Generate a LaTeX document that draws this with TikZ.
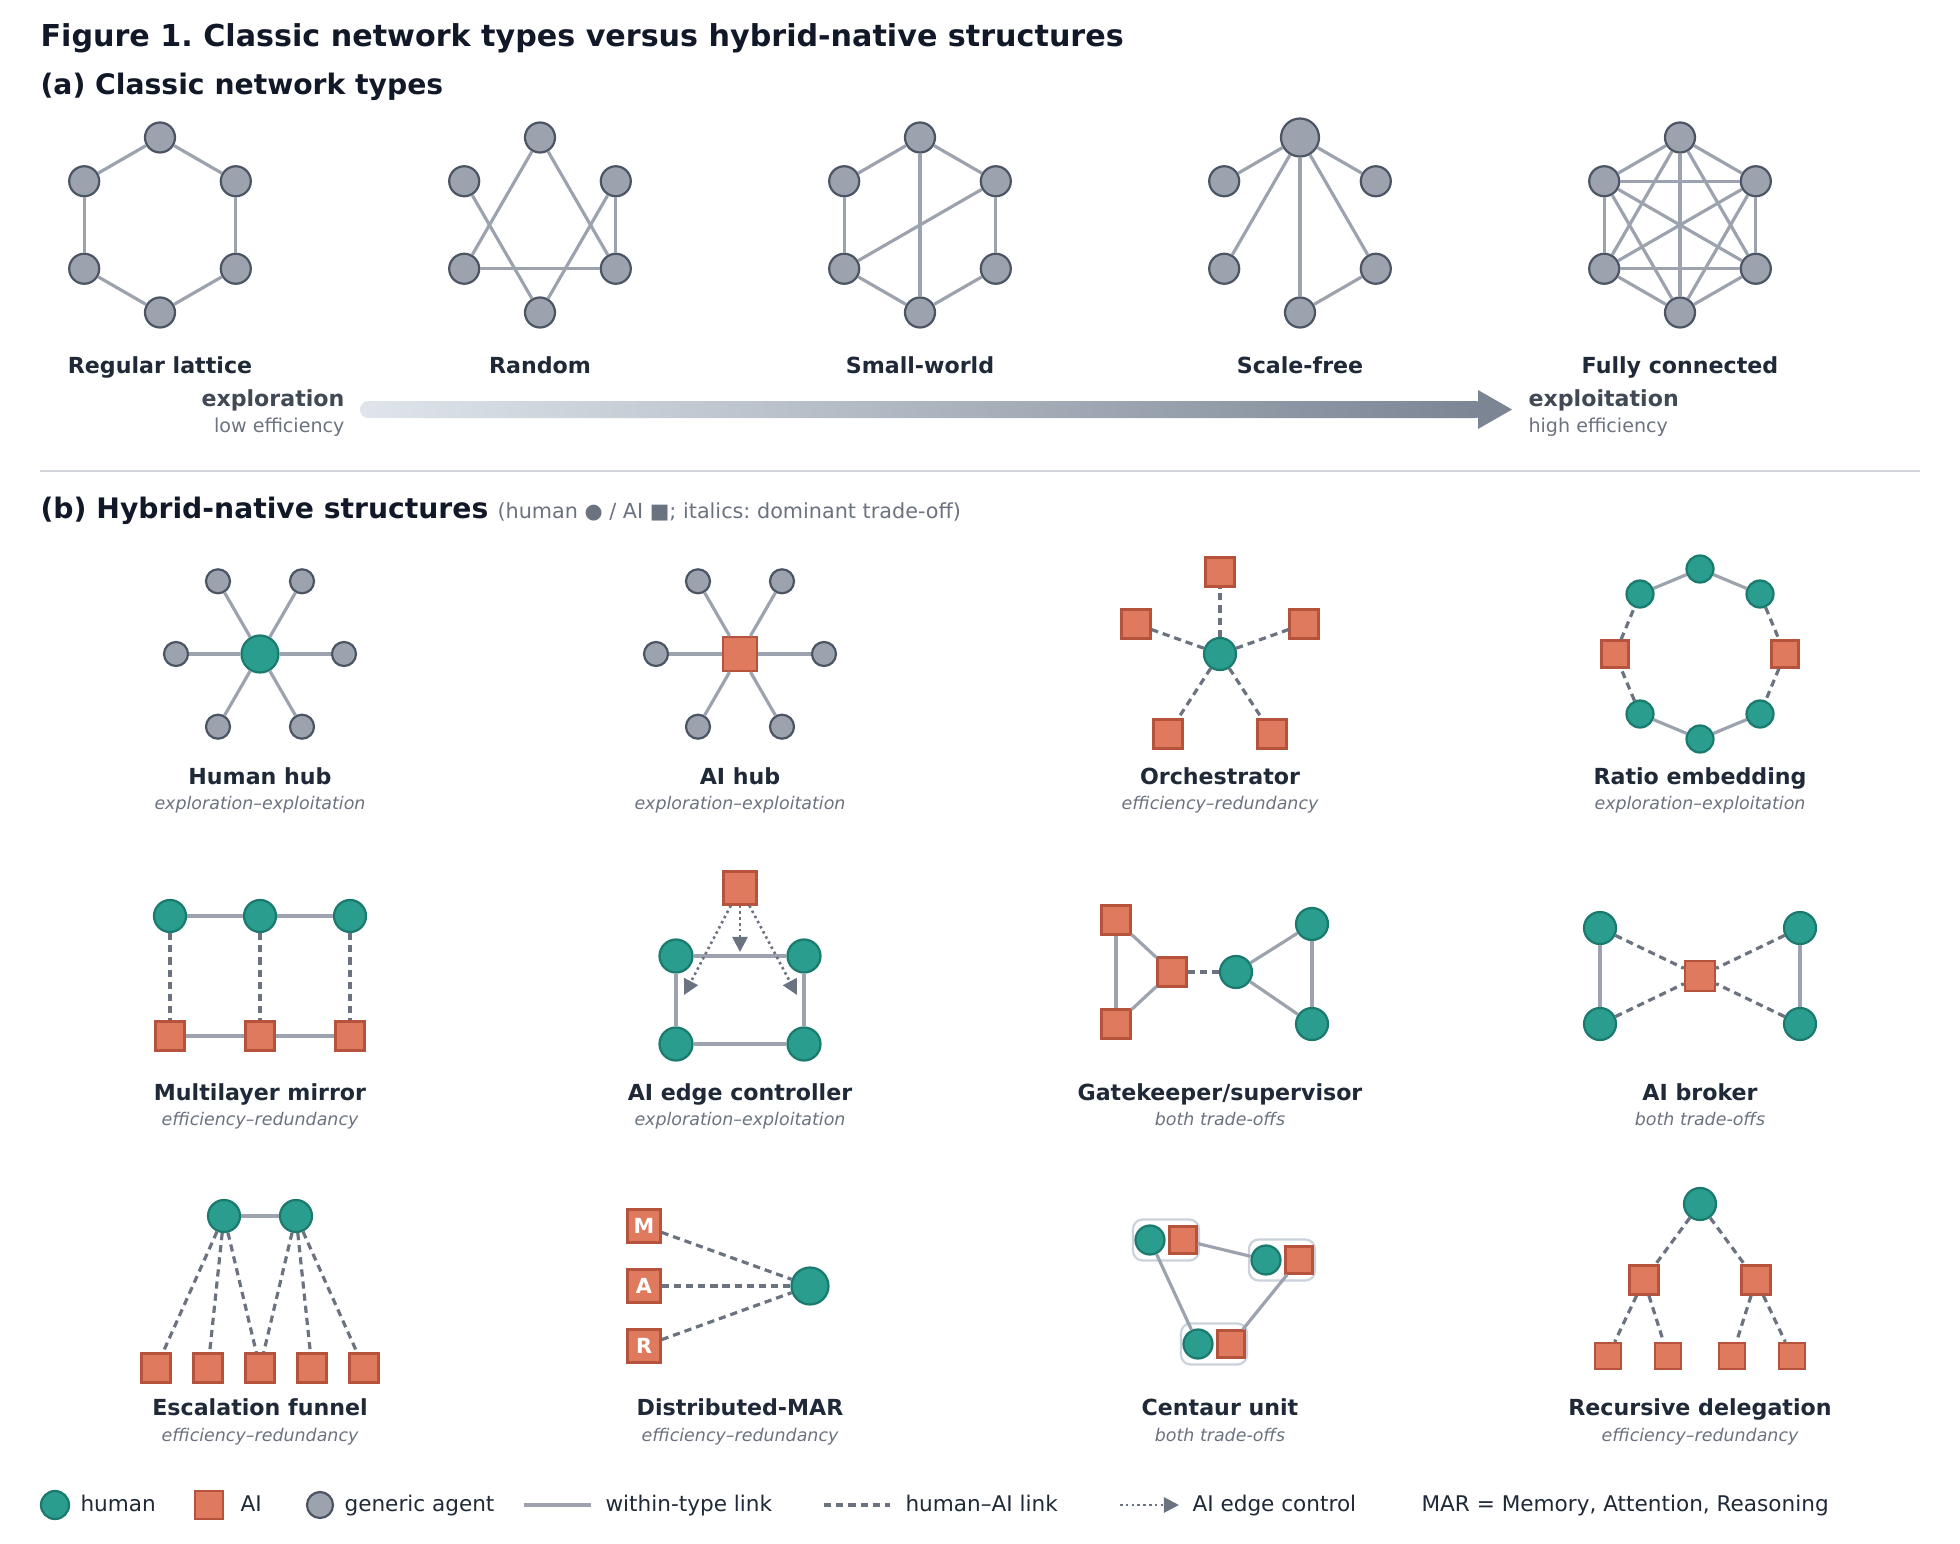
\documentclass[tikz,border=0pt]{standalone}
\usepackage{fontspec}
\setmainfont{DejaVu Sans}
\usetikzlibrary{arrows.meta}
\frenchspacing
\definecolor{genF}{HTML}{9CA3AF}
\definecolor{genS}{HTML}{4B5563}
\definecolor{humF}{HTML}{2A9D8F}
\definecolor{humS}{HTML}{1B7A6E}
\definecolor{aiF}{HTML}{E07A5F}
\definecolor{aiS}{HTML}{B5533C}
\definecolor{edgeC}{HTML}{9CA3AF}
\definecolor{dashC}{HTML}{6B7280}
\definecolor{txtT}{HTML}{111827}
\definecolor{txtD}{HTML}{1F2937}
\definecolor{txtG}{HTML}{6B7280}
\definecolor{sepC}{HTML}{D1D5DB}
\definecolor{boxC}{HTML}{CBD2DB}
\definecolor{barL}{HTML}{DFE5EB}
\definecolor{barR}{HTML}{7B8594}
\def\pxu{0.127mm}
\newcommand\ftitle{\fontsize{10.9}{13}\selectfont\bfseries}
\newcommand\fsec{\fontsize{10.2}{12}\selectfont\bfseries}
\newcommand\flab{\fontsize{8}{9.6}\selectfont\bfseries}
\newcommand\fsub{\fontsize{6.3}{7.5}\selectfont\itshape}
\newcommand\fsmall{\fontsize{6.9}{8}\selectfont}
\newcommand\fleg{\fontsize{7.8}{9}\selectfont}
\newcommand\fnote{\fontsize{7.5}{9}\selectfont}
\newcommand\hexset[3]{%
 \node[gen] (#1ur) at (#2+75.8,#3-43.75) {};
 \node[gen] (#1lr) at (#2+75.8,#3+43.75) {};
 \node[gen] (#1b) at (#2,#3+87.5) {};
 \node[gen] (#1ll) at (#2-75.8,#3+43.75) {};
 \node[gen] (#1ul) at (#2-75.8,#3-43.75) {};
}
\tikzset{
 gen/.style={circle, draw=genS, fill=genF, line width=0.8pt, inner sep=0pt, minimum size=30*\pxu},
 hum/.style={circle, draw=humS, fill=humF, line width=0.8pt, inner sep=0pt, minimum size=32*\pxu},
 aisq/.style={rectangle, draw=aiS, fill=aiF, line width=0.8pt, inner sep=0pt, minimum size=29*\pxu},
 wl/.style={draw=edgeC, line width=1.15pt},
 hl/.style={draw=dashC, line width=1.15pt, dash pattern=on 2.6pt off 1.8pt},
 ctl/.style={draw=dashC, line width=0.95pt, dash pattern=on 0.9pt off 1.2pt, -{Triangle[length=5.5pt,width=5.5pt]}},
 lab/.style={font=\flab, text=txtD, anchor=base, inner sep=0pt},
 sub/.style={font=\fsub, text=txtG, anchor=base, inner sep=0pt},
 legt/.style={font=\fleg, text=txtD, anchor=base west, inner sep=0pt},
 cbox/.style={draw=boxC, fill=white, line width=0.8pt, rounded corners=3.5pt, minimum width=66*\pxu, minimum height=41*\pxu, inner sep=0pt},
}
\begin{document}
\begin{tikzpicture}[x=0.127mm, y=-0.127mm]
\fill[white] (0,0) rectangle (1960,1544);
\useasboundingbox (0,0) rectangle (1960,1544);

% titles
\node[font=\ftitle, text=txtT, anchor=base west, inner sep=0pt] (title) at (40,46.5) {Figure 1. Classic network types versus hybrid-native structures};
\node[font=\fsec, text=txtT, anchor=base west, inner sep=0pt] (seca) at (40,94) {(a) Classic network types};

% (a) regular lattice
\node[gen] (rlt) at (160,137.5) {};
\hexset{rl}{160}{225}
\foreach \a/\b in {t/ur,ur/lr,lr/b,b/ll,ll/ul,ul/t} \draw[wl] (rl\a) -- (rl\b);
% random
\node[gen] (rdt) at (540,137.5) {};
\hexset{rd}{540}{225}
\foreach \a/\b in {t/ll,t/lr,ul/b,ur/b,ur/lr,ll/lr} \draw[wl] (rd\a) -- (rd\b);
% small-world
\node[gen] (swt) at (920,137.5) {};
\hexset{sw}{920}{225}
\foreach \a/\b in {t/ur,ur/lr,lr/b,b/ll,ll/ul,ul/t,t/b,ur/ll} \draw[wl] (sw\a) -- (sw\b);
% scale-free
\node[gen, minimum size=38*\pxu] (sft) at (1300,137.5) {};
\hexset{sf}{1300}{225}
\foreach \a/\b in {t/ul,t/ur,t/ll,t/b,t/lr,b/lr} \draw[wl] (sf\a) -- (sf\b);
% fully connected
\node[gen] (fct) at (1680,137.5) {};
\hexset{fc}{1680}{225}
\foreach \a/\b in {t/ur,t/lr,t/b,t/ll,t/ul,ur/lr,ur/b,ur/ll,ur/ul,lr/b,lr/ll,lr/ul,b/ll,b/ul,ll/ul} \draw[wl] (fc\a) -- (fc\b);

\node[lab] (l1) at (160,373) {Regular lattice};
\node[lab] (l2) at (540,373) {Random};
\node[lab] (l3) at (920,373) {Small-world};
\node[lab] (l4) at (1300,373) {Scale-free};
\node[lab] (l5) at (1680,373) {Fully connected};

% exploration-exploitation bar
\node[font=\flab, text=txtD!85!white, anchor=base east, inner sep=0pt] (explo) at (345,406) {exploration};
\node[font=\fsmall, text=txtG, anchor=base east, inner sep=0pt] (lowe) at (345,432) {low efficiency};
\node[font=\flab, text=txtD!85!white, anchor=base west, inner sep=0pt] (exploit) at (1528,406) {exploitation};
\node[font=\fsmall, text=txtG, anchor=base west, inner sep=0pt] (highe) at (1528,432) {high efficiency};
\shade[left color=barL, right color=barR, rounded corners=3pt] (360,401) rectangle (1484,418);
\fill[barR] (1478,390) -- (1512,409.5) -- (1478,429) -- cycle;

% separator
\draw[sepC, line width=0.8pt] (40,471) -- (1920,471);

% (b) heading
\node[font=\fsec, text=txtT, anchor=base west, inner sep=0pt] (secb) at (40,518) {(b) Hybrid-native structures};
\node[font=\fnote, text=txtG, anchor=base west, inner sep=0pt] (note) at (497,518) {(human ● / AI ■; italics: dominant trade-off)};

% Human hub
\node[hum, minimum size=37*\pxu] (hh) at (260,654) {};
\node[gen, minimum size=24*\pxu] (hh1) at (344,654) {};
\node[gen, minimum size=24*\pxu] (hh2) at (302,581.3) {};
\node[gen, minimum size=24*\pxu] (hh3) at (218,581.3) {};
\node[gen, minimum size=24*\pxu] (hh4) at (176,654) {};
\node[gen, minimum size=24*\pxu] (hh5) at (218,726.7) {};
\node[gen, minimum size=24*\pxu] (hh6) at (302,726.7) {};
\foreach \i in {1,...,6} \draw[wl] (hh) -- (hh\i);
% AI hub
\node[aisq, minimum size=34*\pxu] (ah) at (740,654) {};
\node[gen, minimum size=24*\pxu] (ah1) at (824,654) {};
\node[gen, minimum size=24*\pxu] (ah2) at (782,581.3) {};
\node[gen, minimum size=24*\pxu] (ah3) at (698,581.3) {};
\node[gen, minimum size=24*\pxu] (ah4) at (656,654) {};
\node[gen, minimum size=24*\pxu] (ah5) at (698,726.7) {};
\node[gen, minimum size=24*\pxu] (ah6) at (782,726.7) {};
\foreach \i in {1,...,6} \draw[wl] (ah) -- (ah\i);
% Orchestrator
\node[hum] (orc) at (1220,654) {};
\node[aisq] (or1) at (1220,572) {};
\node[aisq] (or2) at (1136,624) {};
\node[aisq] (or3) at (1304,624) {};
\node[aisq] (or4) at (1168,734) {};
\node[aisq] (or5) at (1272,734) {};
\foreach \i in {1,...,5} \draw[hl] (orc) -- (or\i);
% Ratio embedding
\node[hum, minimum size=27*\pxu] (re1) at (1700,569) {};
\node[hum, minimum size=27*\pxu] (re2) at (1760,594) {};
\node[aisq, minimum size=27*\pxu] (re3) at (1785,654) {};
\node[hum, minimum size=27*\pxu] (re4) at (1760,714) {};
\node[hum, minimum size=27*\pxu] (re5) at (1700,739) {};
\node[hum, minimum size=27*\pxu] (re6) at (1640,714) {};
\node[aisq, minimum size=27*\pxu] (re7) at (1615,654) {};
\node[hum, minimum size=27*\pxu] (re8) at (1640,594) {};
\foreach \a/\b in {1/2,4/5,5/6,8/1} \draw[wl] (re\a) -- (re\b);
\foreach \a/\b in {2/3,3/4,6/7,7/8} \draw[hl] (re\a) -- (re\b);

\node[lab] (lb1) at (260,784) {Human hub};
\node[sub] (sb1) at (260,809) {exploration–exploitation};
\node[lab] (lb2) at (740,784) {AI hub};
\node[sub] (sb2) at (740,809) {exploration–exploitation};
\node[lab] (lb3) at (1220,784) {Orchestrator};
\node[sub] (sb3) at (1220,809) {efficiency–redundancy};
\node[lab] (lb4) at (1700,784) {Ratio embedding};
\node[sub] (sb4) at (1700,809) {exploration–exploitation};

% Multilayer mirror
\node[hum] (mmh1) at (170,916) {};
\node[hum] (mmh2) at (260,916) {};
\node[hum] (mmh3) at (350,916) {};
\node[aisq] (mma1) at (170,1036) {};
\node[aisq] (mma2) at (260,1036) {};
\node[aisq] (mma3) at (350,1036) {};
\draw[wl] (mmh1) -- (mmh2); \draw[wl] (mmh2) -- (mmh3);
\draw[wl] (mma1) -- (mma2); \draw[wl] (mma2) -- (mma3);
\foreach \i in {1,2,3} \draw[hl] (mmh\i) -- (mma\i);
% AI edge controller
\node[aisq, minimum size=33*\pxu] (ecs) at (740,888) {};
\node[hum, minimum size=33*\pxu] (ectl) at (676,956) {};
\node[hum, minimum size=33*\pxu] (ectr) at (804,956) {};
\node[hum, minimum size=33*\pxu] (ecbl) at (676,1044) {};
\node[hum, minimum size=33*\pxu] (ecbr) at (804,1044) {};
\draw[wl] (ectl) -- (ectr); \draw[wl] (ecbl) -- (ecbr);
\draw[wl] (ectl) -- (ecbl); \draw[wl] (ectr) -- (ecbr);
\coordinate (ecm) at (740,952);
\coordinate (ecl) at (684,995);
\coordinate (ecr) at (797,995);
\draw[ctl] (ecs) -- (ecl);
\draw[ctl] (ecs) -- (ecm);
\draw[ctl] (ecs) -- (ecr);
% Gatekeeper/supervisor
\node[aisq] (gka1) at (1116,920) {};
\node[aisq] (gka2) at (1116,1024) {};
\node[aisq] (gka3) at (1172,972) {};
\node[hum] (gkh1) at (1236,972) {};
\node[hum] (gkh2) at (1312,924) {};
\node[hum] (gkh3) at (1312,1024) {};
\foreach \a/\b in {a1/a2,a1/a3,a2/a3,h1/h2,h1/h3,h2/h3} \draw[wl] (gk\a) -- (gk\b);
\draw[hl] (gka3) -- (gkh1);
% AI broker
\node[hum] (abh1) at (1600,928) {};
\node[hum] (abh2) at (1600,1024) {};
\node[hum] (abh3) at (1800,928) {};
\node[hum] (abh4) at (1800,1024) {};
\node[aisq, minimum size=30*\pxu] (aba) at (1700,976) {};
\draw[wl] (abh1) -- (abh2); \draw[wl] (abh3) -- (abh4);
\foreach \i in {1,...,4} \draw[hl] (abh\i) -- (aba);

\node[lab] (lb5) at (260,1100) {Multilayer mirror};
\node[sub] (sb5) at (260,1125) {efficiency–redundancy};
\node[lab] (lb6) at (740,1100) {AI edge controller};
\node[sub] (sb6) at (740,1125) {exploration–exploitation};
\node[lab] (lb7) at (1220,1100) {Gatekeeper/supervisor};
\node[sub] (sb7) at (1220,1125) {both trade-offs};
\node[lab] (lb8) at (1700,1100) {AI broker};
\node[sub] (sb8) at (1700,1125) {both trade-offs};

% Escalation funnel
\node[hum] (efh1) at (224,1216) {};
\node[hum] (efh2) at (296,1216) {};
\node[aisq] (efa1) at (156,1368) {};
\node[aisq] (efa2) at (208,1368) {};
\node[aisq] (efa3) at (260,1368) {};
\node[aisq] (efa4) at (312,1368) {};
\node[aisq] (efa5) at (364,1368) {};
\draw[wl] (efh1) -- (efh2);
\foreach \i in {1,2,3} \draw[hl] (efh1) -- (efa\i);
\foreach \i in {3,4,5} \draw[hl] (efh2) -- (efa\i);
% Distributed-MAR
\node[aisq, minimum size=33*\pxu, font=\fontsize{7.5}{9}\selectfont\bfseries, text=white] (dmm) at (644,1226) {M};
\node[aisq, minimum size=33*\pxu, font=\fontsize{7.5}{9}\selectfont\bfseries, text=white] (dma) at (644,1286) {A};
\node[aisq, minimum size=33*\pxu, font=\fontsize{7.5}{9}\selectfont\bfseries, text=white] (dmr) at (644,1346) {R};
\node[hum, minimum size=37*\pxu] (dmh) at (810,1286) {};
\draw[hl] (dmm) -- (dmh); \draw[hl] (dma) -- (dmh); \draw[hl] (dmr) -- (dmh);
% Centaur unit
\node[cbox] (cub1) at (1166,1240) {};
\node[cbox] (cub2) at (1282,1260) {};
\node[cbox] (cub3) at (1214,1344) {};
\node[hum, minimum size=29*\pxu] (cuh1) at (1150,1240) {};
\node[aisq, minimum size=27*\pxu] (cua1) at (1183,1240) {};
\node[hum, minimum size=29*\pxu] (cuh2) at (1266,1260) {};
\node[aisq, minimum size=27*\pxu] (cua2) at (1299,1260) {};
\node[hum, minimum size=29*\pxu] (cuh3) at (1198,1344) {};
\node[aisq, minimum size=27*\pxu] (cua3) at (1231,1344) {};
\draw[wl] (cua1) -- (cuh2);
\draw[wl] (cuh1) -- (cuh3);
\draw[wl] (cua2) -- (cua3);
% Recursive delegation
\node[hum] (rdh) at (1700,1204) {};
\node[aisq] (rda1) at (1644,1280) {};
\node[aisq] (rda2) at (1756,1280) {};
\node[aisq, minimum size=26*\pxu] (rdb1) at (1608,1356) {};
\node[aisq, minimum size=26*\pxu] (rdb2) at (1668,1356) {};
\node[aisq, minimum size=26*\pxu] (rdb3) at (1732,1356) {};
\node[aisq, minimum size=26*\pxu] (rdb4) at (1792,1356) {};
\draw[hl] (rdh) -- (rda1); \draw[hl] (rdh) -- (rda2);
\draw[hl] (rda1) -- (rdb1); \draw[hl] (rda1) -- (rdb2);
\draw[hl] (rda2) -- (rdb3); \draw[hl] (rda2) -- (rdb4);

\node[lab] (lb9) at (260,1415) {Escalation funnel};
\node[sub] (sb9) at (260,1441) {efficiency–redundancy};
\node[lab] (lb10) at (740,1415) {Distributed-MAR};
\node[sub] (sb10) at (740,1441) {efficiency–redundancy};
\node[lab] (lb11) at (1220,1415) {Centaur unit};
\node[sub] (sb11) at (1220,1441) {both trade-offs};
\node[lab] (lb12) at (1700,1415) {Recursive delegation};
\node[sub] (sb12) at (1700,1441) {efficiency–redundancy};

% legend
\node[hum, minimum size=28*\pxu] (lgh) at (55,1505) {};
\node[legt] (lght) at (80,1511) {human};
\node[aisq, minimum size=28*\pxu] (lga) at (209,1505) {};
\node[legt] (lgat) at (240,1511) {AI};
\node[gen, minimum size=26*\pxu] (lgg) at (320,1505) {};
\node[legt] (lggt) at (344,1511) {generic agent};
\coordinate (lgw1) at (524,1505); \coordinate (lgw2) at (591,1505);
\draw[wl] (lgw1) -- (lgw2);
\node[legt] (lgwt) at (605,1511) {within-type link};
\coordinate (lgd1) at (824,1505); \coordinate (lgd2) at (890,1505);
\draw[hl] (lgd1) -- (lgd2);
\node[legt] (lgdt) at (905,1511) {human–AI link};
\coordinate (lgc1) at (1120,1505); \coordinate (lgc2) at (1179,1505);
\draw[ctl] (lgc1) -- (lgc2);
\node[legt] (lgct) at (1192,1511) {AI edge control};
\node[legt] (lgmar) at (1421,1511) {MAR = Memory, Attention, Reasoning};
\end{tikzpicture}
\end{document}
